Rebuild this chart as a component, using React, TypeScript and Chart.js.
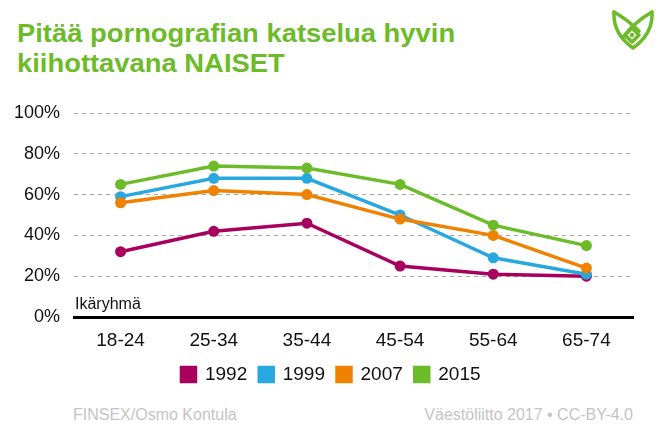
import React, { useEffect, useRef } from "react";
import { Chart, registerables } from "chart.js";

Chart.register(...registerables);

const categories = ["18-24", "25-34", "35-44", "45-54", "55-64", "65-74"];
const years = ["1992", "1999", "2007", "2015"];
const values1992 = [32, 42, 46, 25, 21, 20];
const values1999 = [59, 68, 68, 50, 29, 21];
const values2007 = [56, 62, 60, 48, 40, 24];
const values2015 = [65, 74, 73, 65, 45, 35];
const colors = ["#a8005f", "#29a8e0", "#ef8200", "#6cbb29"];
const yTicks = [0, 20, 40, 60, 80, 100];

const FONT = "'Liberation Sans', Arial, sans-serif";

export default function App() {
  const ref = useRef<HTMLCanvasElement | null>(null);

  useEffect(() => {
    document.body.style.margin = "0";
    const series = [values1992, values1999, values2007, values2015];
    const chart = new Chart(ref.current!, {
      type: "line",
      data: {
        labels: categories,
        datasets: series.map((d, i) => ({
          label: years[i],
          data: d,
          borderColor: colors[i],
          backgroundColor: colors[i],
          pointBackgroundColor: colors[i],
          pointBorderColor: colors[i],
          borderWidth: 3.5,
          pointRadius: 5.5,
          pointBorderWidth: 0,
          tension: 0,
          order: 4 - i,
        })),
      },
      options: {
        animation: false,
        responsive: true,
        maintainAspectRatio: false,
        layout: { padding: { top: 113, right: 0, left: 0, bottom: 0 } },
        plugins: {
          tooltip: { enabled: false },
          title: { display: false },
          legend: {
            position: "bottom",
            labels: {
              boxWidth: 14,
              boxHeight: 14,
              padding: 12,
              color: "#111",
              font: { family: FONT, size: 19 },
              sort: (a: any, b: any) => a.datasetIndex - b.datasetIndex,
            },
          },
        },
        scales: {
          x: {
            offset: true,
            grid: { display: false, drawTicks: false },
            border: { display: true, color: "#000", width: 3 },
            ticks: { color: "#111", padding: 12, font: { family: FONT, size: 19 } },
            afterFit: (s: any) => { s.height = 36; },
          },
          y: {
            min: 0,
            max: 100,
            afterBuildTicks: (s: any) => { s.ticks = yTicks.map((v) => ({ value: v })); },
            grid: {
              drawTicks: false,
              color: (ctx: any) => (ctx.tick && ctx.tick.value === 0 ? "rgba(0,0,0,0)" : "#a8a8a8"),
              lineWidth: 1,
            },
            border: { display: false, dash: [4, 4] },
            ticks: {
              color: "#111",
              padding: 14,
              font: { family: FONT, size: 18 },
              callback: (v: any) => v + "%",
            },
            afterFit: (s: any) => { s.width = 74; },
          },
          yRight: {
            position: "right",
            min: 0,
            max: 100,
            grid: { display: false, drawTicks: false },
            border: { display: false },
            ticks: { display: false },
            afterFit: (s: any) => { s.width = 29; },
          },
        },
      },
    });
    return () => chart.destroy();
  }, []);

  return (
    <div style={{ position: "relative", width: 662, height: 440, background: "#fff", fontFamily: FONT, overflow: "hidden" }}>
      <div style={{ position: "absolute", left: 17, top: 18.3, fontSize: 25, lineHeight: "30px", fontWeight: "bold", color: "#6cbb29", whiteSpace: "nowrap", transform: "scaleX(1.095)", transformOrigin: "0 0" }}>
        Pitää pornografian katselua hyvin
        <br />
        kiihottavana NAISET
      </div>
      <svg style={{ position: "absolute", left: 611, top: 9 }} width={44} height={42} viewBox="0 0 44 42">
        <g fill="none" stroke="#6cbb29" strokeWidth={3.5} strokeLinejoin="round" strokeLinecap="round">
          <path d="M3,3 C2,20 12,32 22,39 C32,32 42,20 41,3" />
          <path d="M3,3 C10,7 20,14 28,22" />
          <path d="M41,3 C32,8 20,18 12,28" />
          <path d="M21,19 L28,26 L21,33 L14,26 Z" />
        </g>
        <circle cx={21} cy={26} r={2.2} fill="#6cbb29" />
      </svg>
      <div style={{ position: "absolute", left: 0, top: 0, width: 662, height: 394 }}>
        <canvas ref={ref} />
      </div>
      <div style={{ position: "absolute", left: 75, top: 295.5, fontSize: 16, lineHeight: 1, color: "#111" }}>Ikäryhmä</div>
      <div style={{ position: "absolute", left: 73, top: 406.5, fontSize: 16, lineHeight: 1, color: "#c4c4c4" }}>FINSEX/Osmo Kontula</div>
      <div style={{ position: "absolute", right: 29, top: 406.5, fontSize: 16, lineHeight: 1, color: "#c4c4c4" }}>Väestöliitto 2017 • CC-BY-4.0</div>
    </div>
  );
}
